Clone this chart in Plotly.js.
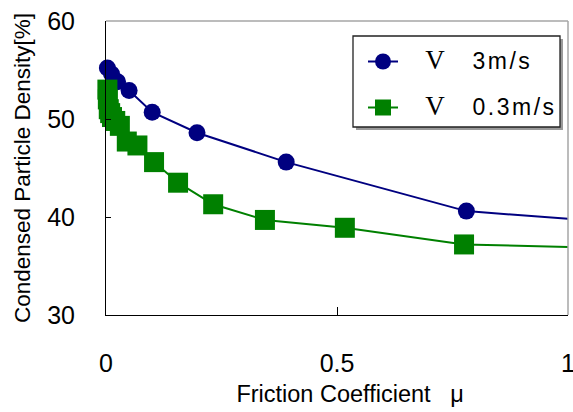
<!DOCTYPE html>
<html>
<head>
<meta charset="utf-8">
<script src="https://cdn.plot.ly/plotly-3.0.1.min.js"></script>
<style>html,body{margin:0;padding:0;background:#fff;}</style>
</head>
<body>
<div id="chart" style="width:573px;height:412px;"></div>
<script>
// Series: V = 3 m/s
const frictionFast = [0.003, 0.012, 0.025, 0.05, 0.1, 0.197, 0.39, 0.78, 1.2];
const densityFast  = [55.2, 54.6, 53.8, 52.9, 50.7, 48.6, 45.6, 40.6, 39.1];
// Series: V = 0.3 m/s
const frictionSlow = [0.003, 0.004, 0.006, 0.009, 0.013, 0.02, 0.03, 0.045, 0.068, 0.104, 0.156, 0.232, 0.344, 0.517, 0.775, 1.2];
const densitySlow  = [53.0, 52.0, 51.0, 50.6, 50.2, 49.8, 49.3, 47.7, 47.3, 45.6, 43.5, 41.3, 39.7, 38.9, 37.2, 36.7];
const xTickVals = [0, 0.5, 1];
const xTickText = ['0', '0.5', '1'];
const yTickVals = [30, 40, 50, 60];
const yTickText = ['30', '40', '50', '60'];
const seriesNames = ['3m/s', '0.3m/s'];

function legendLabel(v) {
  return '&nbsp;&nbsp;&nbsp;&nbsp;<span style="font-family:\'Liberation Serif\',serif;font-size:27px">V</span>' +
         '&nbsp;&nbsp;&nbsp;&nbsp;&nbsp;<span style="font-size:23px;letter-spacing:2.5px">' + v + '</span>';
}

const traces = [
  {
    x: frictionFast, y: densityFast, type: 'scatter', mode: 'lines+markers',
    name: legendLabel(seriesNames[0]), legendgroup: 'a',
    line: {color: '#000080', width: 2},
    marker: {color: '#000080', size: 17, symbol: 'circle'},
    cliponaxis: false
  },
  {
    x: frictionSlow, y: densitySlow, type: 'scatter', mode: 'lines+markers',
    name: legendLabel(seriesNames[1]), legendgroup: 'b',
    line: {color: '#008000', width: 2},
    marker: {color: '#008000', size: 20, symbol: 'square'},
    cliponaxis: false
  }
];

const X0 = 106, X1 = 568, Y0 = 21, Y1 = 315;
function px(v) { return (v - X0) / (X1 - X0); }
function py(v) { return (Y1 - v) / (Y1 - Y0); }

const layout = {
  width: 573, height: 412,
  margin: {l: 106, r: 5, t: 21, b: 97},
  paper_bgcolor: '#ffffff', plot_bgcolor: '#ffffff',
  font: {family: '"Liberation Sans", Arial, sans-serif', color: '#000000', size: 20},
  showlegend: true,
  legend: {
    x: px(363), y: py(42), xanchor: 'left', yanchor: 'top',
    bgcolor: 'rgba(0,0,0,0)', borderwidth: 0,
    font: {size: 20, color: '#000000'},
    tracegroupgap: 17
  },
  xaxis: {
    range: [0, 1], tickmode: 'array', tickvals: xTickVals, ticktext: xTickText,
    ticks: 'inside', ticklen: 8, tickcolor: '#000000', tickwidth: 1,
    showline: true, linecolor: '#000000', linewidth: 1,
    showgrid: false, zeroline: false,
    tickfont: {size: 25}, ticklabelstandoff: 26, ticklabeloverflow: 'allow',
    title: {text: '&nbsp;&nbsp;&nbsp;&nbsp;Friction Coefficient&nbsp;&nbsp;&nbsp;μ', font: {size: 23.5}, standoff: 9}
  },
  yaxis: {
    range: [30, 60], tickmode: 'array', tickvals: yTickVals, ticktext: yTickText,
    ticks: 'inside', ticklen: 5, tickcolor: '#000000', tickwidth: 1,
    showline: true, linecolor: '#000000', linewidth: 1,
    showgrid: false, zeroline: false,
    tickfont: {size: 25}, ticklabelstandoff: 25,
    title: {text: 'Condensed Particle Density[%]', font: {size: 22.5}, standoff: 10}
  },
  shapes: [
    {type: 'line', xref: 'paper', yref: 'paper', x0: 0, x1: 1, y0: 1, y1: 1, line: {color: '#a6a6a6', width: 1.5}, layer: 'above'},
    {type: 'line', xref: 'paper', yref: 'paper', x0: 1, x1: 1, y0: 0, y1: 1, line: {color: '#a6a6a6', width: 1.5}, layer: 'above'},
    {type: 'rect', xref: 'paper', yref: 'paper', x0: px(356), x1: px(563), y0: py(130), y1: py(39), fillcolor: '#9a9a9a', line: {width: 0}, layer: 'above'},
    {type: 'rect', xref: 'paper', yref: 'paper', x0: px(353), x1: px(560), y0: py(127), y1: py(36), fillcolor: '#ffffff', line: {color: '#222222', width: 1.3}, layer: 'above'}
  ]
};

Plotly.newPlot('chart', traces, layout, {displayModeBar: false, staticPlot: true});
</script>
</body>
</html>
